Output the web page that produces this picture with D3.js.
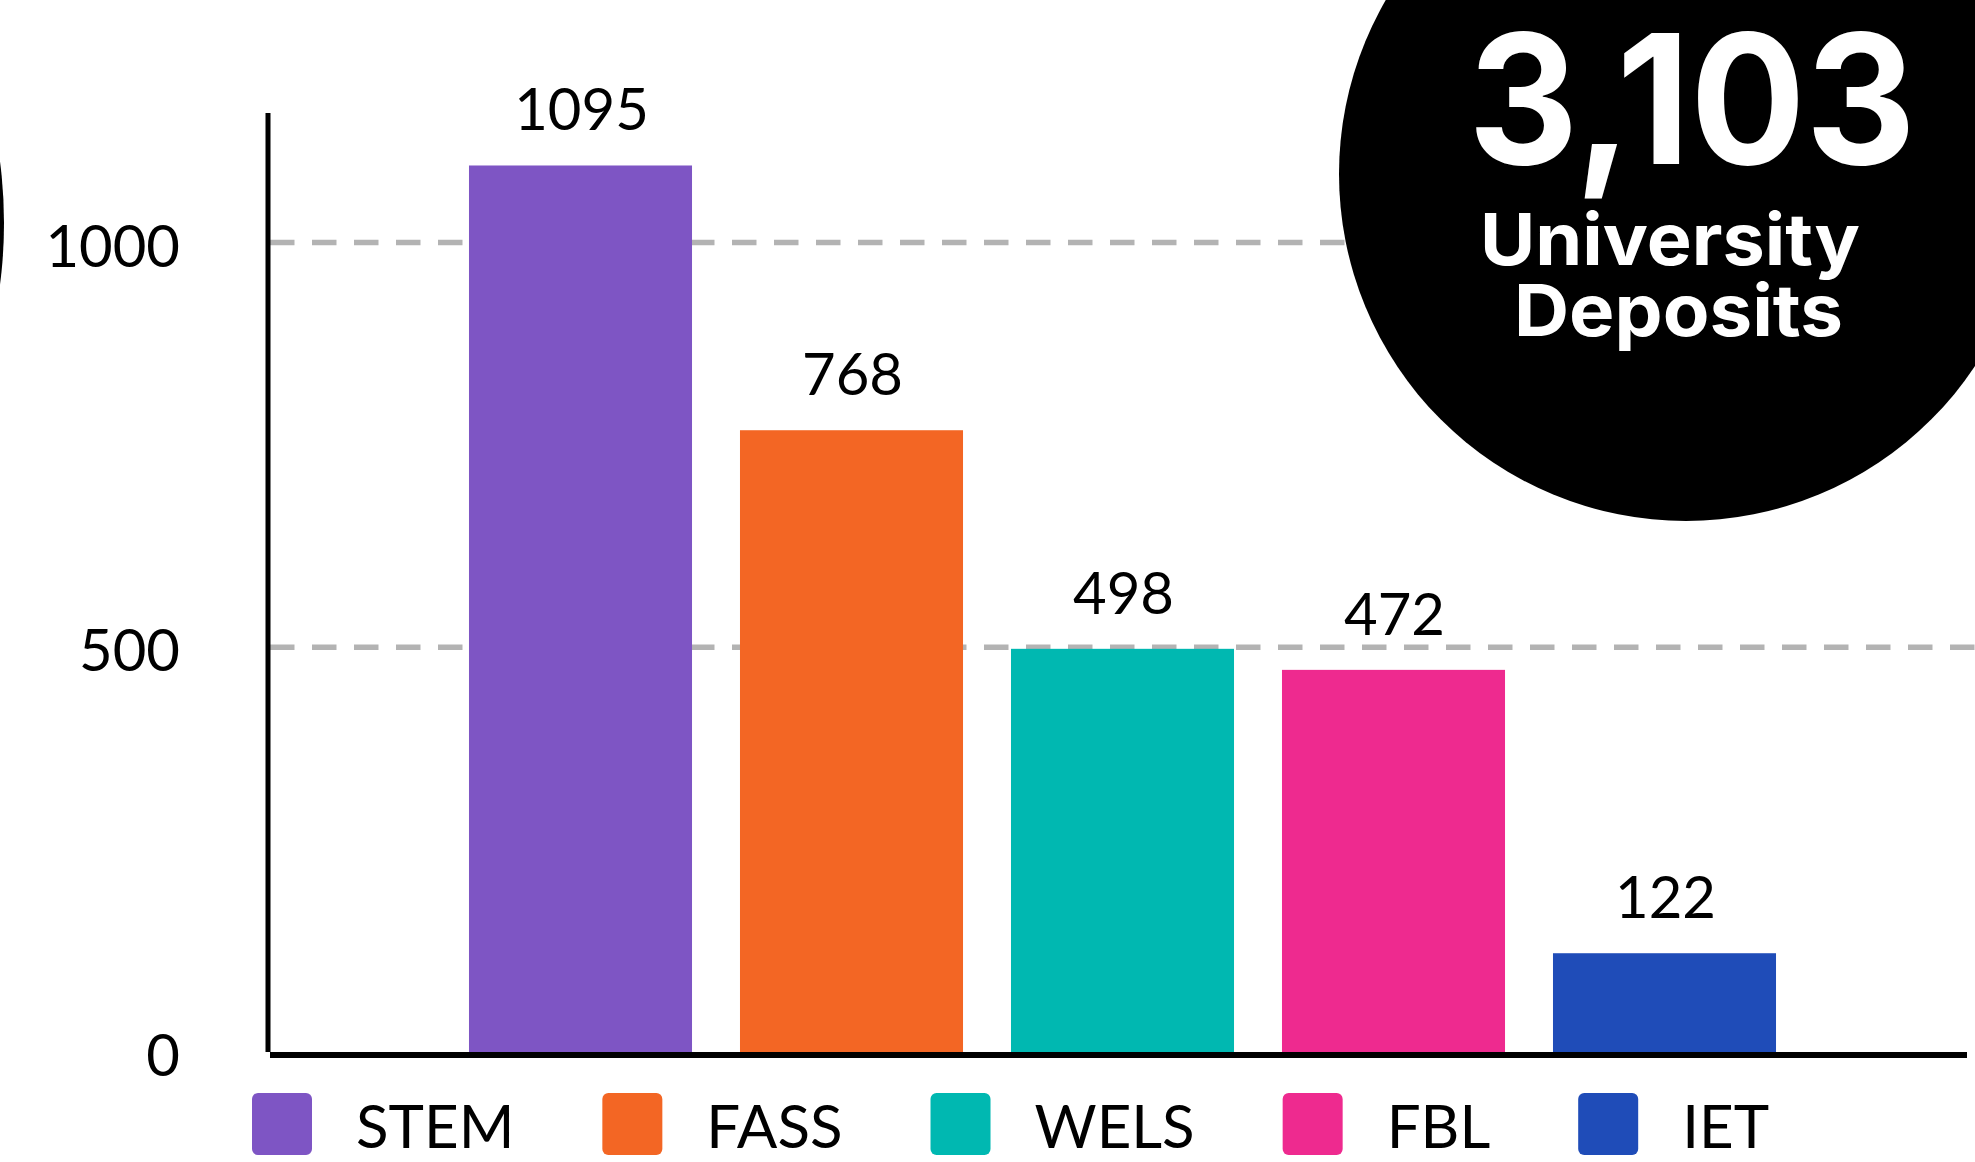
<!DOCTYPE html>
<html>
<head>
<meta charset="utf-8">
<script src="https://cdn.jsdelivr.net/npm/d3@7/dist/d3.min.js"></script>
<style>
  html, body { margin: 0; padding: 0; background: #ffffff; }
  svg { display: block; }
</style>
</head>
<body>
<svg id="chart" width="1975" height="1162"></svg>
<script>
// ---- data ----
const categories = ["STEM", "FASS", "WELS", "FBL", "IET"];
const values = [1095, 768, 498, 472, 122];
const colors = ["#7E55C4", "#F36624", "#00B8B1", "#EE2A8F", "#1F4CB8"];
const yTickValues = [0, 500, 1000];
const gridValues = [500, 1000];
const totalText = "3,103";
const totalCaption = ["University", "Deposits"];

// ---- layout ----
const W = 1975, H = 1162;
const svg = d3.select("#chart");
svg.append("rect").attr("width", W).attr("height", H).attr("fill", "#ffffff");

const axisX = 268;
const baseY = 1052;
const x = d3.scaleBand().domain(categories).range([445, 1800])
  .paddingInner(0.177).paddingOuter(0.0885);
const y = d3.scaleLinear().domain([0, 1000]).range([baseY, 242.4]);

const FONT = "Lato, 'Open Sans', 'DejaVu Sans', sans-serif";

// left decorative circle (mostly off-canvas)
svg.append("circle").attr("cx", -476).attr("cy", 223).attr("r", 480).attr("fill", "#000");

// gridlines
svg.append("g").selectAll("line").data(gridValues).join("line")
  .attr("x1", axisX + 2).attr("x2", W)
  .attr("y1", d => y(d)).attr("y2", d => y(d))
  .attr("stroke", "#b3b3b3").attr("stroke-width", 5.5)
  .attr("stroke-dasharray", "24.5 17.5");

// bars
const data = categories.map((c, i) => ({ c, v: values[i], col: colors[i] }));
svg.append("g").selectAll("rect").data(data).join("rect")
  .attr("x", d => x(d.c)).attr("width", x.bandwidth())
  .attr("y", d => y(d.v)).attr("height", d => y(0) - y(d.v))
  .attr("fill", d => d.col);

// value labels
svg.append("g").selectAll("text").data(data).join("text")
  .attr("x", d => x(d.c) + x.bandwidth() / 2 + 1)
  .attr("y", d => y(d.v) - 35)
  .attr("text-anchor", "middle")
  .attr("font-family", FONT).attr("font-size", 58).attr("fill", "#000")
  .text(d => d.v);

// y axis labels
const yAxis = d3.axisLeft(y).tickValues(yTickValues).tickSize(0).tickPadding(88)
  .tickFormat(d3.format("d"));
const gy = svg.append("g").attr("transform", `translate(${axisX},0)`).call(yAxis);
gy.select(".domain").remove();
gy.selectAll("text").attr("font-family", FONT).attr("font-size", 58)
  .attr("fill", "#000").attr("dy", "0.41em");

// axis lines
svg.append("line").attr("x1", axisX).attr("x2", axisX)
  .attr("y1", 113).attr("y2", baseY)
  .attr("stroke", "#000").attr("stroke-width", 5);
svg.append("line").attr("x1", 270).attr("x2", 1967)
  .attr("y1", baseY + 3).attr("y2", baseY + 3)
  .attr("stroke", "#000").attr("stroke-width", 6);

// big circle with total
svg.append("circle").attr("cx", 1686).attr("cy", 174).attr("r", 347).attr("fill", "#000");
const BIG = "Inter, 'Open Sans', 'DejaVu Sans', sans-serif";
svg.append("text").attr("x", 1692).attr("y", 164).attr("text-anchor", "middle")
  .attr("font-family", BIG).attr("font-weight", 700).attr("font-size", 180)
  .attr("fill", "#fff").attr("textLength", 448).attr("lengthAdjust", "spacingAndGlyphs")
  .text(totalText);
const capX = [1670, 1678.5], capY = [264.5, 335.7], capW = [380, 329];
totalCaption.forEach((t, i) => {
  svg.append("text").attr("x", capX[i]).attr("y", capY[i]).attr("text-anchor", "middle")
    .attr("font-family", BIG).attr("font-weight", 700).attr("font-size", 72)
    .attr("fill", "#fff").attr("textLength", capW[i]).attr("lengthAdjust", "spacingAndGlyphs")
    .text(t);
});

// legend
const legend = svg.append("g");
let lx = 252;
data.forEach(d => {
  legend.append("rect").attr("x", lx).attr("y", 1093).attr("width", 60).attr("height", 62)
    .attr("rx", 6).attr("fill", d.col);
  const t = legend.append("text").attr("x", lx + 104).attr("y", 1148)
    .attr("font-family", FONT).attr("font-size", 60).attr("fill", "#000").text(d.c);
  lx = lx + 104 + t.node().getComputedTextLength() + 88;
});
</script>
</body>
</html>
